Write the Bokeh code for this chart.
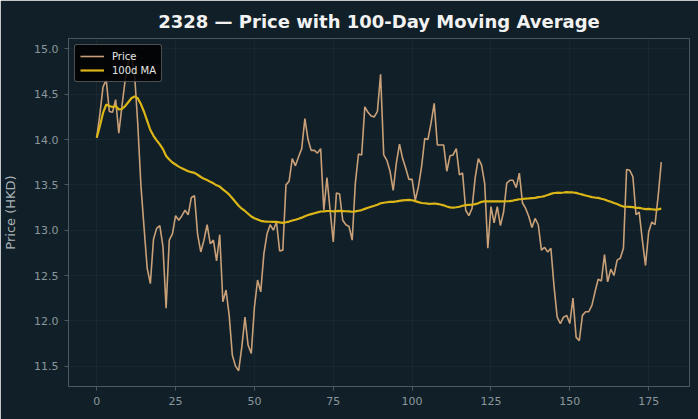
import pandas as pd
from bokeh.plotting import figure
from bokeh.models import Range1d, FixedTicker, NumeralTickFormatter, Legend, LegendItem
from bokeh.embed import file_html
from bokeh.resources import INLINE

TITLE = "2328 — Price with 100-Day Moving Average"
Y_LABEL = "Price (HKD)"
PRICE_LABEL = "Price"
MA_LABEL = "100d MA"
MA_WINDOW = 100
X_TICKS = [0, 25, 50, 75, 100, 125, 150, 175]
Y_TICKS = [11.5, 12.0, 12.5, 13.0, 13.5, 14.0, 14.5, 15.0]

price = [
    14.02, 14.28, 14.58, 14.66, 14.31, 14.30, 14.44, 14.07, 14.37, 14.65,
    14.85, 14.94, 14.72, 14.18, 13.50, 13.03, 12.58, 12.41, 12.90, 13.02,
    13.05, 12.82, 12.14, 12.89, 12.96, 13.16, 13.11, 13.16, 13.22, 13.17,
    13.36, 13.38, 12.95, 12.76, 12.89, 13.06, 12.85, 12.89, 12.66, 12.95,
    12.21, 12.34, 12.06, 11.62, 11.50, 11.45, 11.71, 12.04, 11.73, 11.64,
    12.15, 12.45, 12.32, 12.74, 12.96, 13.06, 13.00, 13.09, 12.77, 12.78,
    13.50, 13.54, 13.79, 13.71, 13.81, 13.90, 14.23, 14.00, 13.88, 13.88,
    13.85, 13.90, 13.22, 13.58, 13.22, 12.87, 13.41, 13.40, 13.11, 13.06,
    13.04, 12.89, 13.52, 13.84, 13.83, 14.36, 14.30, 14.26, 14.25, 14.31,
    14.72, 13.83, 13.77, 13.65, 13.44, 13.74, 13.95, 13.79, 13.68, 13.56,
    13.56, 13.33, 13.48, 13.70, 14.01, 14.00, 14.18, 14.40, 13.94, 13.94,
    13.94, 13.65, 13.82, 13.83, 13.90, 13.61, 13.63, 13.22, 13.16, 13.24,
    13.58, 13.79, 13.72, 13.52, 12.80, 13.26, 13.08, 13.26, 13.05, 13.20,
    13.52, 13.55, 13.55, 13.47, 13.63, 13.30, 13.24, 13.15, 13.03, 13.13,
    13.06, 12.78, 12.81, 12.76, 12.80, 12.38, 12.04, 11.97, 12.04, 12.06,
    11.97, 12.25, 11.82, 11.78, 12.06, 12.10, 12.10, 12.17, 12.32, 12.46,
    12.44, 12.73, 12.43, 12.57, 12.50, 12.67, 12.69, 12.80, 13.67, 13.66,
    13.59, 13.17, 13.20, 12.89, 12.61, 12.98, 13.09, 13.06, 13.37, 13.75,
]
day = list(range(len(price)))
ma = pd.Series(price).rolling(MA_WINDOW, min_periods=1).mean().tolist()

BG = "#112028"
GRID = "#ffffff"
TICK_COLOR = "#8a979c"
SPINE = "#4d5a60"

xmin, xmax = min(day), max(day)
ymin, ymax = min(price + ma), max(price + ma)
xpad = (xmax - xmin) * 0.05
ypad = (ymax - ymin) * 0.05

p = figure(
    width=698, height=419,
    output_backend="svg", toolbar_location=None,
    x_range=Range1d(xmin - xpad, xmax + xpad),
    y_range=Range1d(ymin - ypad, ymax + ypad),
    min_border_left=68, min_border_right=9,
    min_border_top=38, min_border_bottom=33,
    background_fill_color=BG, border_fill_color=BG,
    outline_line_color=None,
)

p.title.text = TITLE
p.title.align = "center"
p.title.text_color = "#f2f2f2"
p.title.text_font = "DejaVu Sans"
p.title.text_font_size = "18px"
p.title.text_font_style = "bold"
p.title.standoff = 14

for ax in (p.xaxis[0], p.yaxis[0]):
    ax.axis_line_color = SPINE
    ax.major_tick_line_color = SPINE
    ax.major_tick_out = 4
    ax.major_tick_in = 0
    ax.minor_tick_line_color = None
    ax.major_label_text_color = TICK_COLOR
    ax.major_label_text_font = "DejaVu Sans"
    ax.major_label_text_font_size = "11px"
    ax.major_label_standoff = 6

p.xaxis.ticker = FixedTicker(ticks=X_TICKS)
p.yaxis.ticker = FixedTicker(ticks=Y_TICKS)
p.yaxis.formatter = NumeralTickFormatter(format="0.0")
p.yaxis.axis_label = Y_LABEL
p.yaxis.axis_label_text_color = "#a9b3b7"
p.yaxis.axis_label_text_font = "DejaVu Sans"
p.yaxis.axis_label_text_font_size = "13px"
p.yaxis.axis_label_text_font_style = "normal"
p.yaxis.axis_label_standoff = 13

p.xgrid.grid_line_color = GRID
p.xgrid.grid_line_alpha = 0.03
p.ygrid.grid_line_color = GRID
p.ygrid.grid_line_alpha = 0.03

r_price = p.line(day, price, line_color="#c9a078", line_width=1.6)
r_ma = p.line(day, ma, line_color="#dcb616", line_width=2.2)

legend = Legend(
    items=[LegendItem(label=PRICE_LABEL, renderers=[r_price]),
           LegendItem(label=MA_LABEL, renderers=[r_ma])],
    location="top_left",
    margin=6, padding=5, spacing=2,
    background_fill_color="#000000", background_fill_alpha=0.85,
    border_line_color="#9a9a9a", border_line_width=1, border_radius=3,
    label_text_color="#e6e6e6", label_text_font="DejaVu Sans",
    label_text_font_size="10px", label_standoff=8,
    glyph_width=24, glyph_height=12,
)
p.add_layout(legend)

open("out.html", "w").write(file_html(p, INLINE))
